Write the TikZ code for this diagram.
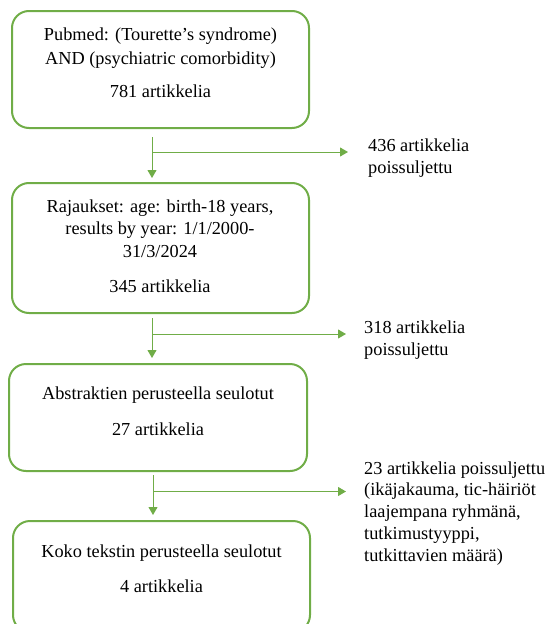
\documentclass[tikz,border=0pt]{standalone}
\usepackage{fontspec}
\setmainfont{Liberation Serif}
\usetikzlibrary{arrows.meta}
\definecolor{grn}{HTML}{70AD47}
\tikzset{
  box/.style={draw=grn, line width=2pt, rounded corners=17pt, inner sep=0pt},
  boxtext/.style={align=center, inner sep=0pt, anchor=base, font=\fontsize{18.3}{22.5}\selectfont},
  extext/.style={align=left, inner sep=0pt, anchor=base west, font=\fontsize{18.3}{21.7}\selectfont},
  arr/.style={draw=grn, line width=1pt, -{Triangle[width=9pt,length=8pt]}}
}
\begin{document}
\begin{tikzpicture}[x=1pt,y=-1pt]
\useasboundingbox (0,0) rectangle (547,624);
% boxes
\node[box, minimum width=297pt, minimum height=117pt] (b1) at (160.5,69.5) {};
\node[box, minimum width=297pt, minimum height=130pt] (b2) at (160.5,248) {};
\node[box, minimum width=298pt, minimum height=107pt] (b3) at (158,417.5) {};
\node[box, minimum width=297pt, minimum height=111pt] (b4) at (161.5,576.5) {};
% box texts (anchor base = baseline of the last line)
\node[boxtext, font=\fontsize{18.3}{24}\selectfont] (t1) at (160.5,97) {Pubmed: (Tourette’s syndrome)\\AND (psychiatric comorbidity)\\[9pt]781 artikkelia};
\node[boxtext] (t2) at (160,292) {Rajaukset: age: birth-18 years,\\results by year: 1/1/2000-\\31/3/2024\\[12.5pt]345 artikkelia};
\node[boxtext] (t3) at (158,435) {Abstraktien perusteella seulotut\\[13.5pt]27 artikkelia};
\node[boxtext] (t4) at (161.5,592) {Koko tekstin perusteella seulotut\\[12.5pt]4 artikkelia};
% exclusion texts
\node[extext] (e1) at (368,173) {436 artikkelia\\poissuljettu};
\node[extext] (e2) at (364,355) {318 artikkelia\\poissuljettu};
\node[extext] (e3) at (364,561) {23 artikkelia poissuljettu\\(ikäjakauma, tic-häiriöt\\laajempana ryhmänä,\\tutkimustyyppi,\\tutkittavien määrä)};
% connector coordinates
\coordinate (a1s) at (152,137);
\coordinate (a1e) at (152,178);
\coordinate (a1b) at (152,152);
\coordinate (a1t) at (348,152);
\coordinate (a2s) at (152,318);
\coordinate (a2e) at (152,358);
\coordinate (a2b) at (152,334);
\coordinate (a2t) at (346,334);
\coordinate (a3s) at (153,475);
\coordinate (a3e) at (153,515);
\coordinate (a3b) at (153,491.5);
\coordinate (a3t) at (346,491.5);
% connectors
\draw[arr] (a1s) -- (a1e);
\draw[arr] (a1b) -- (a1t);
\draw[arr] (a2s) -- (a2e);
\draw[arr] (a2b) -- (a2t);
\draw[arr] (a3s) -- (a3e);
\draw[arr] (a3b) -- (a3t);
\end{tikzpicture}
\end{document}
